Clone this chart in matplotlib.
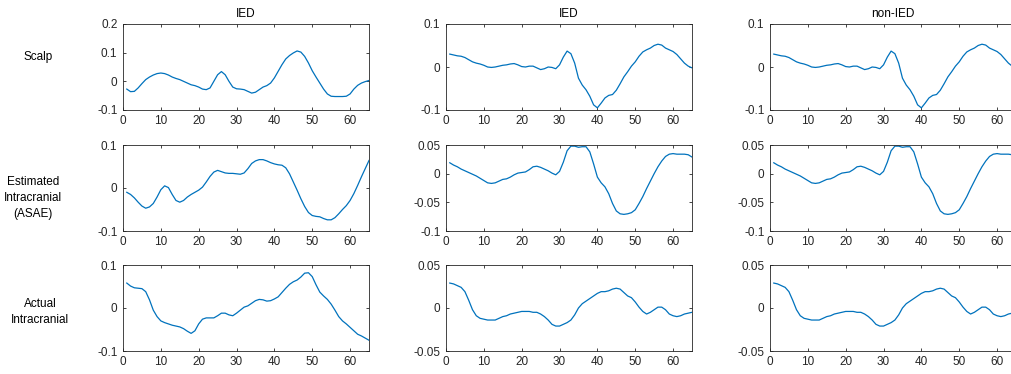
import matplotlib
matplotlib.use("Agg")
import matplotlib.pyplot as plt
import numpy as np

plt.rcParams['font.family'] = ['Liberation Sans', 'DejaVu Sans']

# sample index (1..65)
x = np.arange(1, 66)

# column 1 (IED)
scalp_a = [-0.027, -0.036, -0.035, -0.023, -0.008, 0.006, 0.015, 0.022, 0.027, 0.029,
           0.027, 0.022, 0.015, 0.010, 0.006, 0.0, -0.006, -0.012, -0.015, -0.020,
           -0.027, -0.029, -0.023, 0.0, 0.023, 0.034, 0.023, 0.0, -0.020, -0.026,
           -0.027, -0.029, -0.035, -0.041, -0.038, -0.029, -0.020, -0.015, -0.006, 0.012,
           0.035, 0.058, 0.078, 0.090, 0.099, 0.106, 0.102, 0.087, 0.064, 0.037,
           0.015, -0.006, -0.027, -0.044, -0.052, -0.053, -0.053, -0.053, -0.052, -0.044,
           -0.027, -0.014, -0.006, -0.001, 0.003]
est_a = [-0.010, -0.015, -0.023, -0.033, -0.042, -0.047, -0.044, -0.036, -0.021, -0.004,
         0.005, 0.001, -0.015, -0.029, -0.033, -0.029, -0.021, -0.015, -0.010, -0.005,
         0.002, 0.014, 0.027, 0.037, 0.041, 0.038, 0.035, 0.034, 0.034, 0.033,
         0.032, 0.035, 0.045, 0.057, 0.063, 0.066, 0.066, 0.063, 0.059, 0.056,
         0.054, 0.053, 0.047, 0.033, 0.014, -0.005, -0.025, -0.043, -0.057, -0.064,
         -0.066, -0.067, -0.071, -0.074, -0.074, -0.069, -0.060, -0.050, -0.041, -0.029,
         -0.013, 0.006, 0.026, 0.045, 0.064]
act_a = [0.058, 0.051, 0.047, 0.046, 0.045, 0.038, 0.019, -0.005, -0.020, -0.030,
         -0.034, -0.037, -0.040, -0.042, -0.044, -0.048, -0.054, -0.059, -0.053, -0.037,
         -0.026, -0.023, -0.023, -0.023, -0.018, -0.012, -0.012, -0.016, -0.018, -0.012,
         -0.005, 0.002, 0.005, 0.011, 0.017, 0.020, 0.019, 0.016, 0.017, 0.021,
         0.026, 0.036, 0.046, 0.055, 0.061, 0.065, 0.072, 0.081, 0.082, 0.073,
         0.054, 0.037, 0.028, 0.020, 0.009, -0.005, -0.020, -0.030, -0.037, -0.045,
         -0.053, -0.061, -0.065, -0.070, -0.075]

# columns 2 and 3 (IED / non-IED)
scalp_b = [0.030, 0.028, 0.026, 0.025, 0.022, 0.017, 0.012, 0.009, 0.007, 0.004,
           0.0, -0.001, 0.0, 0.002, 0.004, 0.005, 0.007, 0.008, 0.005, 0.001,
           0.0, 0.002, 0.002, -0.002, -0.006, -0.004, 0.0, -0.001, -0.004, 0.005,
           0.023, 0.037, 0.031, 0.009, -0.026, -0.042, -0.053, -0.068, -0.088, -0.095,
           -0.084, -0.072, -0.066, -0.064, -0.054, -0.039, -0.023, -0.011, 0.002, 0.012,
           0.025, 0.035, 0.040, 0.044, 0.050, 0.053, 0.051, 0.044, 0.040, 0.036,
           0.029, 0.019, 0.009, 0.002, -0.002]
est_b = [0.019, 0.015, 0.012, 0.008, 0.005, 0.002, -0.001, -0.004, -0.008, -0.012,
         -0.016, -0.017, -0.016, -0.013, -0.010, -0.009, -0.006, -0.002, 0.001, 0.002,
         0.003, 0.007, 0.012, 0.013, 0.011, 0.008, 0.005, 0.001, -0.002, 0.004,
         0.020, 0.040, 0.048, 0.048, 0.046, 0.047, 0.047, 0.038, 0.017, -0.006,
         -0.016, -0.023, -0.035, -0.052, -0.065, -0.070, -0.071, -0.070, -0.068, -0.063,
         -0.052, -0.040, -0.026, -0.013, 0.0, 0.012, 0.022, 0.030, 0.034, 0.035,
         0.034, 0.034, 0.034, 0.033, 0.029]
act_b = [0.029, 0.028, 0.026, 0.024, 0.019, 0.009, -0.002, -0.009, -0.012, -0.013,
         -0.014, -0.014, -0.014, -0.012, -0.010, -0.009, -0.007, -0.006, -0.005, -0.004,
         -0.004, -0.004, -0.005, -0.005, -0.007, -0.010, -0.014, -0.019, -0.021, -0.021,
         -0.019, -0.017, -0.014, -0.008, 0.0, 0.005, 0.008, 0.011, 0.014, 0.017,
         0.019, 0.019, 0.020, 0.022, 0.023, 0.022, 0.018, 0.014, 0.012, 0.007,
         0.001, -0.004, -0.007, -0.005, -0.002, 0.001, 0.001, -0.002, -0.007, -0.009,
         -0.010, -0.009, -0.007, -0.006, -0.005]

col_titles = ["IED", "IED", "non-IED"]
row_labels = ["Scalp", "Estimated\nIntracranial\n(ASAE)", "Actual\nIntracranial"]
series = [[scalp_a, scalp_b, scalp_b],
          [est_a, est_b, est_b],
          [act_a, act_b, act_b]]
yticks_a = [[-0.1, 0, 0.1, 0.2], [-0.1, 0, 0.1], [-0.1, 0, 0.1]]
yticks_b = [[-0.1, 0, 0.1], [-0.1, -0.05, 0, 0.05], [-0.05, 0, 0.05]]
xticks = [0, 10, 20, 30, 40, 50, 60]

W, H = 1012, 374
fig = plt.figure(figsize=(W / 100, H / 100), dpi=100)

lefts = [123, 446, 770]
tops = [24, 145, 265]
aw, ah = 246, 86
label_x = [38, 33, 40]
label_y = [57, 198, 312]
dark = '#262626'

for r in range(3):
    for c in range(3):
        ax = fig.add_axes([lefts[c] / W, 1 - (tops[r] + ah) / H, aw / W, ah / H])
        ax.plot(x, series[r][c], color='#0072BD', lw=0.9)
        yt = yticks_a[r] if c == 0 else yticks_b[r]
        ax.set_xlim(0, 65)
        ax.set_ylim(yt[0], yt[-1])
        ax.set_xticks(xticks)
        ax.set_yticks(yt)
        ax.set_yticklabels(['0' if v == 0 else ('%g' % v) for v in yt])
        ax.tick_params(direction='in', length=2.5, width=0.6, colors=dark,
                       labelsize=8.5, top=True, right=True)
        ax.tick_params(axis='x', pad=3.5)
        ax.tick_params(axis='y', pad=4)
        for s in ax.spines.values():
            s.set_linewidth(0.6)
            s.set_color(dark)
        if r == 0:
            ax.set_title(col_titles[c], fontsize=8.5, pad=5, color='black')
    fig.text(label_x[r] / W, 1 - label_y[r] / H, row_labels[r], ha='center', va='center',
             fontsize=8.5, color='black', linespacing=1.45)

fig.savefig('out.png', dpi=100)
